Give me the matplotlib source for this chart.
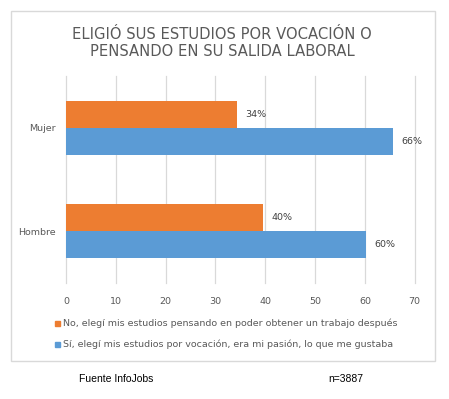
import matplotlib
matplotlib.use("Agg")
import matplotlib.pyplot as plt
from matplotlib.patches import Rectangle

categories = ["Hombre", "Mujer"]
no_vals = [39.6, 34.3]      # orange: por salida laboral
si_vals = [60.3, 65.7]      # blue: por vocación
no_labels = ["40%", "34%"]
si_labels = ["60%", "66%"]
series_names = ["No, elegí mis estudios pensando en poder obtener un trabajo después",
                "Sí, elegí mis estudios por vocación, era mi pasión, lo que me gustaba"]
xticks = [0, 10, 20, 30, 40, 50, 60, 70]

ORANGE = "#ED7D31"
BLUE = "#5B9BD5"
GRAY = "#595959"

W, H = 449, 399
fig = plt.figure(figsize=(W / 100, H / 100), dpi=100)

# outer chart border
fig.patches.append(Rectangle((11 / W, 1 - 361 / H), 424 / W, 350 / H,
                             transform=fig.transFigure, fill=False,
                             edgecolor="#D9D9D9", lw=1))

ax = fig.add_axes([66 / W, 1 - 283 / H, (414.7 - 66) / W, (283 - 76) / H])
y = list(range(len(categories)))
bh = 0.26
b1 = ax.barh([v + bh / 2 for v in y], no_vals, height=bh, color=ORANGE)
b2 = ax.barh([v - bh / 2 for v in y], si_vals, height=bh, color=BLUE)

for bars, labels in ((b1, no_labels), (b2, si_labels)):
    for b, t in zip(bars, labels):
        ax.annotate(t, (b.get_width(), b.get_y() + b.get_height() / 2),
                    xytext=(6, 0), textcoords="offset points", va="center",
                    fontsize=6.8, color="#404040")

ax.set_xlim(0, 70)
ax.set_ylim(-0.5, 1.5)
ax.set_xticks(xticks)
ax.set_yticks(y)
ax.set_yticklabels(categories)
ax.tick_params(axis="both", length=0, labelsize=6.8, labelcolor=GRAY)
ax.tick_params(axis="x", pad=10)
ax.tick_params(axis="y", pad=7.2)
ax.grid(axis="x", color="#D9D9D9", lw=0.9)
for gl in ax.get_xgridlines():
    gl.set_clip_on(False)
ax.set_axisbelow(True)
for s in ax.spines.values():
    s.set_visible(False)

fig.text(222 / W, 1 - 43 / H, "ELIGIÓ SUS ESTUDIOS POR VOCACIÓN O\nPENSANDO EN SU SALIDA LABORAL",
         ha="center", va="center", fontsize=10.6, color=GRAY, linespacing=1.2)

# legend
for i, (name, col) in enumerate(zip(series_names, [ORANGE, BLUE])):
    yy = 1 - (323 + i * 21) / H
    fig.patches.append(Rectangle((55 / W, yy - 2.5 / H), 5 / W, 5 / H,
                                 transform=fig.transFigure, color=col))
    fig.text(63 / W, yy, name, va="center", fontsize=6.8, color=GRAY)

fig.text(79 / W, 1 - 379 / H, "Fuente InfoJobs", va="center", fontsize=7.5,
         family="Liberation Sans")
fig.text(328 / W, 1 - 379 / H, "n=3887", va="center", fontsize=7.5,
         family="Liberation Sans")

fig.savefig("out.png", dpi=100, facecolor="white")
